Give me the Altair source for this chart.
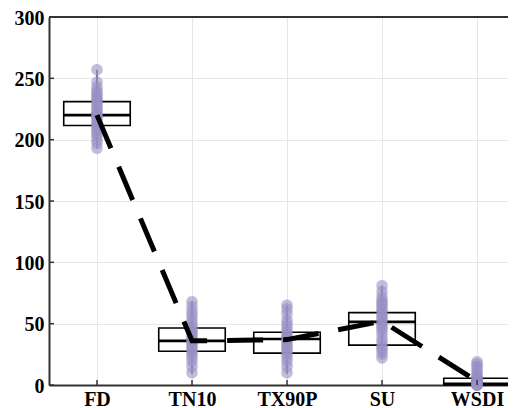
import altair as alt
import pandas as pd

categories = ["FD", "TN10", "TX90P", "SU", "WSDI"]

fd_vals = [257, 247, 243, 240, 238, 236, 234, 232, 231, 229, 227, 225, 223, 221,
           220, 219, 218, 216, 214, 212, 211, 209, 207, 205, 203, 200, 197, 193]
tn10_vals = [68, 64, 60, 57, 54, 51, 48, 46, 44, 42, 40, 38, 36, 35, 33, 31, 29,
             27, 25, 22, 19, 15, 10]
tx90p_vals = [65, 62, 58, 53, 50, 47, 44, 42, 40, 38, 37, 35, 33, 31, 29, 27, 25,
              22, 19, 15, 10]
su_vals = [81, 76, 72, 69, 67, 65, 63, 61, 59, 57, 55, 53, 51, 49, 47, 45, 42, 38,
           35, 32, 30, 28, 25, 22]
wsdi_vals = [19, 17, 15, 13, 11, 9, 7, 6, 5, 4, 3, 2, 2, 1, 1, 0, 0, 0, 0]

q1 = [211.5, 27.5, 26, 32.5, 0]
median = [220, 36, 37.5, 51.5, 1]
q3 = [231, 46.5, 43, 59, 5.5]
whisk_lo = [193, 9, 9, 22, 0]
whisk_hi = [257, 68, 65, 81, 19]
means = [220, 36, 37, 52, 3]
y_ticks = [0, 50, 100, 150, 200, 250, 300]

all_vals = [fd_vals, tn10_vals, tx90p_vals, su_vals, wsdi_vals]
pts = pd.DataFrame(
    [{"idx": i, "cat": categories[i], "v": v} for i, vals in enumerate(all_vals) for v in vals]
)
box = pd.DataFrame({
    "idx": list(range(len(categories))),
    "cat": categories,
    "q1": q1, "median": median, "q3": q3,
    "lo": whisk_lo, "hi": whisk_hi, "mean": means,
})
yt = pd.DataFrame({"v": y_ticks})

W, H = 459, 368
FONT = "Liberation Serif"
label_expr = "[" + ",".join("'%s'" % c for c in categories) + "][datum.value]"

xscale = alt.Scale(domain=[-0.505, 4.326], nice=False, zero=False)
yscale = alt.Scale(domain=[0, 300], nice=False)

xaxis = alt.Axis(values=list(range(len(categories))), labelExpr=label_expr, title=None,
                 labelFont=FONT, labelFontSize=20, labelFontWeight="bold", labelColor="black",
                 labelPadding=4, tickSize=0, domainColor="#333333", domainWidth=2,
                 grid=True, gridColor="#e6e6e6", gridWidth=1, labelFlush=False)
yaxis = alt.Axis(values=y_ticks, title=None,
                 labelFont=FONT, labelFontSize=20, labelFontWeight="bold", labelColor="black",
                 labelPadding=5, labelOffset=1, tickSize=0, domainColor="#333333",
                 domainWidth=2, grid=True, gridColor="#e6e6e6", gridWidth=1)

X = lambda f: alt.X(f, type="quantitative", scale=xscale, axis=xaxis)
Y = lambda f: alt.Y(f, type="quantitative", scale=yscale, axis=yaxis)

bx = alt.Chart(box).transform_calculate(xl="datum.idx - 0.35", xr="datum.idx + 0.35")

whisker = alt.Chart(box).mark_rule(color="black", strokeWidth=1).encode(
    x=X("idx"), y=Y("lo"), y2="hi")

rect = bx.mark_rect(fillOpacity=0, stroke="black", strokeWidth=1.6).encode(
    x=X("xl"), x2="xr", y=Y("q1"), y2="q3")

med = bx.mark_rule(color="black", strokeWidth=2.6).encode(
    x=X("xl"), x2="xr", y=Y("median"))

points = alt.Chart(pts).mark_circle(size=130, color="#9d91c8", opacity=0.6,
                                    stroke="#5a4f80", strokeWidth=0.8,
                                    strokeOpacity=0.12).encode(
    x=X("idx"), y=Y("v"))

mean_line = alt.Chart(box).mark_line(color="black", strokeWidth=5, strokeDash=[36, 20],
                                     strokeCap="butt").encode(
    x=X("idx"), y=Y("mean"))

yticks = alt.Chart(yt).mark_rule(color="#333333", strokeWidth=1.5).encode(
    y=Y("v"), x=alt.value(0), x2=alt.value(5))

xticks = alt.Chart(box).mark_rule(color="#333333", strokeWidth=1.5).encode(
    x=X("idx"), y=alt.value(H), y2=alt.value(H - 5))

top = alt.Chart(yt).transform_filter("datum.v == 300").mark_rule(
    color="#333333", strokeWidth=2).encode(y=Y("v"))

chart = alt.layer(whisker, rect, med, points, mean_line, yticks, xticks, top).properties(
    width=W, height=H,
    autosize=alt.AutoSizeParams(type="none"),
    padding={"left": 41, "top": 9, "right": 0, "bottom": 28},
).configure_view(stroke=None)

chart.save("out.html", embed_options={"renderer": "svg", "actions": False})
